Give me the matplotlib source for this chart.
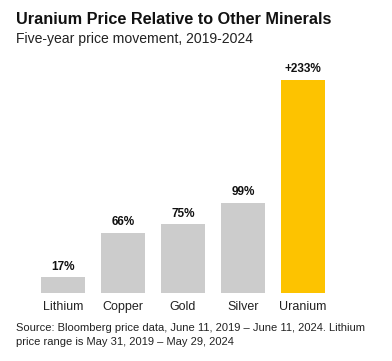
import matplotlib.pyplot as plt

minerals = ["Lithium", "Copper", "Gold", "Silver", "Uranium"]
change = [17, 66, 75, 99, 233]
labels = ["17%", "66%", "75%", "99%", "+233%"]
colors = ["#cccccc", "#cccccc", "#cccccc", "#cccccc", "#fdc300"]

plt.rcParams["font.family"] = ["Liberation Sans", "DejaVu Sans"]

fig = plt.figure(figsize=(3.92, 3.61), dpi=100)
ax = fig.add_axes([33 / 392, 1 - 293 / 361, 300 / 392, 228.5 / 361])

x = range(len(minerals))
bars = ax.bar(x, change, width=0.72, color=colors)
for b, lab in zip(bars, labels):
    ax.annotate(lab, (b.get_x() + b.get_width() / 2, b.get_height()),
                xytext=(0, 3.5), textcoords="offset points", ha="center", va="bottom",
                fontsize=8.5, fontweight="bold", color="#111111")

ax.set_xlim(-0.5, 4.5)
ax.set_ylim(0, 250)
ax.set_xticks(list(x))
ax.set_xticklabels(minerals, fontsize=9, color="#222222")
ax.tick_params(axis="x", length=0, pad=6)
ax.set_yticks([])
for s in ax.spines.values():
    s.set_visible(False)

fig.text(16 / 392, 1 - 12 / 361, "Uranium Price Relative to Other Minerals",
         fontsize=11.7, fontweight="bold", va="top", color="#111111")
fig.text(16 / 392, 1 - 32 / 361, "Five-year price movement, 2019-2024",
         fontsize=10.1, va="top", color="#222222")
fig.text(16 / 392, 1 - 323 / 361,
         "Source: Bloomberg price data, June 11, 2019 \u2013 June 11, 2024. Lithium\n"
         "price range is May 31, 2019 \u2013 May 29, 2024",
         fontsize=8.0, va="top", color="#222222", linespacing=1.45)

fig.savefig("out.png", dpi=100)
